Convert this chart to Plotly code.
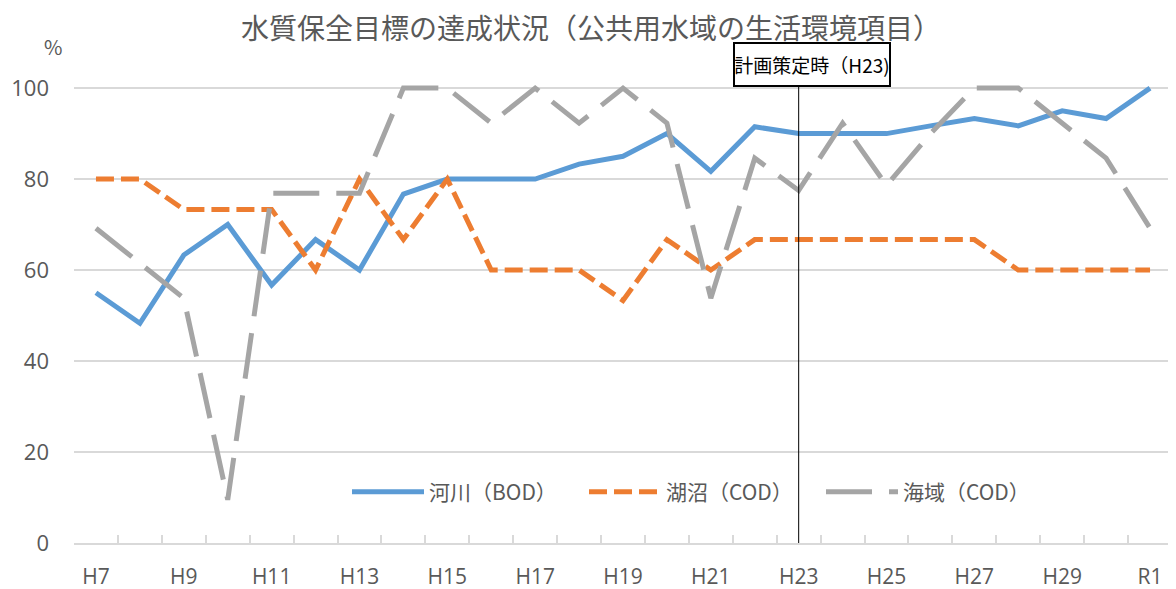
import plotly.graph_objects as go

categories = ["H7", "H8", "H9", "H10", "H11", "H12", "H13", "H14", "H15", "H16",
              "H17", "H18", "H19", "H20", "H21", "H22", "H23", "H24", "H25", "H26",
              "H27", "H28", "H29", "H30", "R1"]
river_bod = [55.0, 48.3, 63.3, 70.0, 56.7, 66.7, 60.0, 76.7, 80.0, 80.0,
             80.0, 83.3, 85.0, 90.0, 81.7, 91.5, 90.0, 90.0, 90.0, 91.7,
             93.3, 91.7, 95.0, 93.3, 100.0]
lake_cod = [80.0, 80.0, 73.3, 73.3, 73.3, 60.0, 80.0, 66.7, 80.0, 60.0,
            60.0, 60.0, 53.3, 66.7, 60.0, 66.7, 66.7, 66.7, 66.7, 66.7,
            66.7, 60.0, 60.0, 60.0, 60.0]
sea_cod = [69.2, 61.5, 53.8, 9.5, 76.9, 76.9, 76.9, 100.0, 100.0, 92.3,
           100.0, 92.3, 100.0, 92.3, 53.8, 84.6, 77.5, 92.3, 78.6, 90.0,
           100.0, 100.0, 92.3, 84.6, 69.2]
series_names = ["河川（BOD）", "湖沼（COD）", "海域（COD）"]
y_ticks = [0, 20, 40, 60, 80, 100]
tick_text = [c if i % 2 == 0 else "" for i, c in enumerate(categories)]

FONT = "Open Sans, Noto Sans CJK JP, sans-serif"
TXT = "#595959"

# page body has an 8px margin; work in figure coordinates (screen - 8)
OFF = 8
W, H = 1176 - OFF, 589 - OFF
L, R, T, B = 74 - OFF, 4, 71, 46
ph = H - T - B
pw = W - L - R
y_bottom = 543 - OFF  # pixel of y=0 in figure coords


def py(screen_y):
    return (y_bottom - (screen_y - OFF)) / ph


def px(screen_x):
    return (screen_x - OFF - L) / pw


fig = go.Figure()
fig.add_trace(go.Scatter(x=categories, y=river_bod, name=series_names[0], mode="lines",
                         line=dict(color="#5B9BD5", width=5)))
fig.add_trace(go.Scatter(x=categories, y=lake_cod, name=series_names[1], mode="lines",
                         line=dict(color="#ED7D31", width=5, dash="18px,7px")))
fig.add_trace(go.Scatter(x=categories, y=sea_cod, name=series_names[2], mode="lines",
                         line=dict(color="#A5A5A5", width=5, dash="46px,17px")))

fig.update_layout(
    width=W, height=H,
    margin=dict(l=L, r=R, t=T, b=B, autoexpand=False),
    paper_bgcolor="white", plot_bgcolor="white",
    font=dict(family=FONT, color=TXT),
    title=dict(text="水質保全目標の達成状況（公共用水域の生活環境項目）",
               x=(591 - OFF) / W, xref="container", xanchor="center",
               y=1 - (29 - OFF) / H, yref="container", yanchor="middle",
               font=dict(size=28, color=TXT, family="Noto Sans CJK JP")),
    showlegend=True,
    legend=dict(orientation="h", x=px(347), xanchor="left",
                y=py(492), yanchor="middle",
                font=dict(size=21, color=TXT, family="Noto Sans CJK JP"),
                bgcolor="rgba(0,0,0,0)", itemwidth=72, entrywidth=150),
    xaxis=dict(type="category", range=[-0.5, len(categories) - 0.5],
               tickson="boundaries", tickmode="array", tickvals=categories,
               ticktext=tick_text, tickangle=0, automargin=False,
               ticks="inside", ticklen=8, tickcolor="#D9D9D9",
               tickwidth=1.5, showline=True, linecolor="#D9D9D9", linewidth=1.5,
               showgrid=False, tickfont=dict(size=21, color=TXT), ticklabelstandoff=14),
    yaxis=dict(range=[0, 102], tickvals=y_ticks, showgrid=True, gridcolor="#D9D9D9",
               gridwidth=1.5, zeroline=False, showline=False, ticks="", automargin=False,
               tickfont=dict(size=22, color=TXT), ticklabelstandoff=24),
)

fig.add_annotation(text="%", xref="paper", yref="paper", x=px(53), y=py(46),
                   xanchor="center", yanchor="middle", showarrow=False,
                   font=dict(size=20, color=TXT, family="Noto Sans CJK JP"))

fig.add_shape(type="line", xref="x", yref="y", x0="H23", x1="H23", y0=0,
              y1=py(87) * 102, line=dict(color="black", width=1))
fig.add_annotation(text="計画策定時（H23)", xref="x", x="H23", xshift=13,
                   yref="paper", y=py(64.5), yanchor="middle",
                   showarrow=False, bordercolor="black", borderwidth=2,
                   bgcolor="white", width=154, height=41, borderpad=0,
                   font=dict(size=19, color="black", family="Noto Sans CJK JP"))

fig.write_html("out.html")
